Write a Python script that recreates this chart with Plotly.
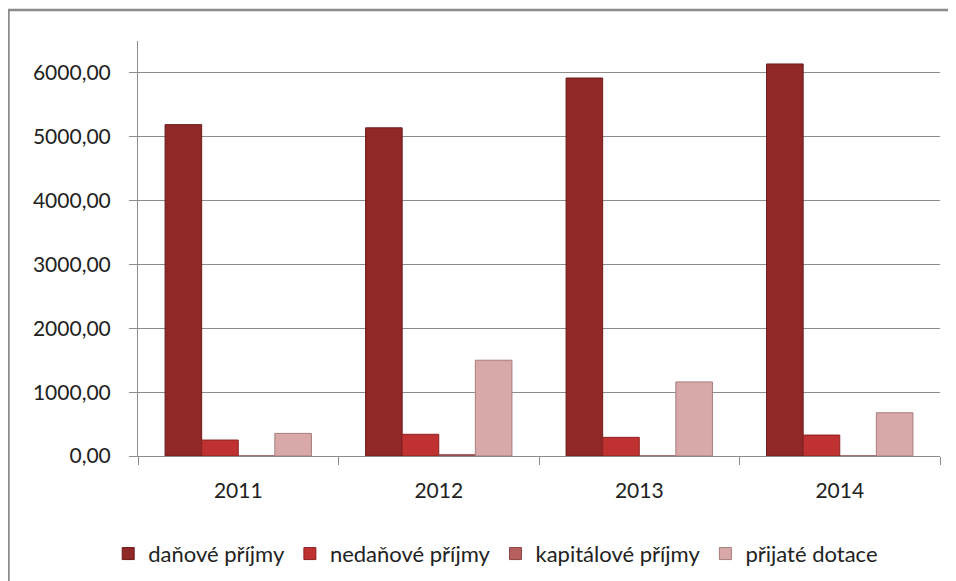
import plotly.graph_objects as go

years = ["2011", "2012", "2013", "2014"]
danove = [5190, 5140, 5920, 6140]
nedanove = [250, 340, 292, 328]
kapitalove = [0, 20, 0, 0]
dotace = [354, 1500, 1160, 677]
series_names = ["daňové příjmy", "nedaňové příjmy", "kapitálové příjmy", "přijaté dotace"]
y_ticks = [0, 1000, 2000, 3000, 4000, 5000, 6000]
y_tick_labels = ["0,00", "1000,00", "2000,00", "3000,00", "4000,00", "5000,00", "6000,00"]

colors = ["#912828", "#C03232", "#B86060", "#D9A9A9"]
edge = ["#6E1A1A", "#8E2222", "#8A4444", "#A57C7C"]

fig = go.Figure()
for name, vals, c, e in zip(series_names, [danove, nedanove, kapitalove, dotace], colors, edge):
    fig.add_trace(go.Bar(x=years, y=vals, name=name,
                         marker=dict(color=c, line=dict(color=e, width=1))))

font_family = "Lato, 'Open Sans', sans-serif"
fig.update_layout(
    width=956, height=581,
    margin=dict(l=130, r=24, t=33, b=133),
    paper_bgcolor="white", plot_bgcolor="white",
    barmode="group", bargap=0.27, bargroupgap=0,
    font=dict(family=font_family, size=21, color="#222222"),
    showlegend=True,
    legend=dict(orientation="h", x=0.446, xanchor="center", y=-0.185, yanchor="top",
                font=dict(size=22), itemwidth=30, traceorder="normal"),
    xaxis=dict(type="category", showline=True, linecolor="#8c8c8c", linewidth=1,
               ticks="outside", tickson="boundaries", ticklen=8, tickcolor="#8c8c8c",
               showgrid=False, tickfont=dict(size=21), ticklabelstandoff=16),
    yaxis=dict(range=[0, 6500], tickvals=y_ticks, ticktext=y_tick_labels,
               showline=True, linecolor="#8c8c8c", linewidth=1,
               ticks="outside", ticklen=8, tickcolor="#8c8c8c",
               showgrid=True, gridcolor="#8c8c8c", gridwidth=1,
               zeroline=False, tickfont=dict(size=21), ticklabelstandoff=14),
    shapes=[dict(type="rect", xref="paper", yref="paper",
                 x0=-0.1615, x1=1.08, y0=-0.4, y1=1.0747,
                 line=dict(color="#8c8c8c", width=2.5), fillcolor="rgba(0,0,0,0)")],
)

fig.write_html("out.html")
